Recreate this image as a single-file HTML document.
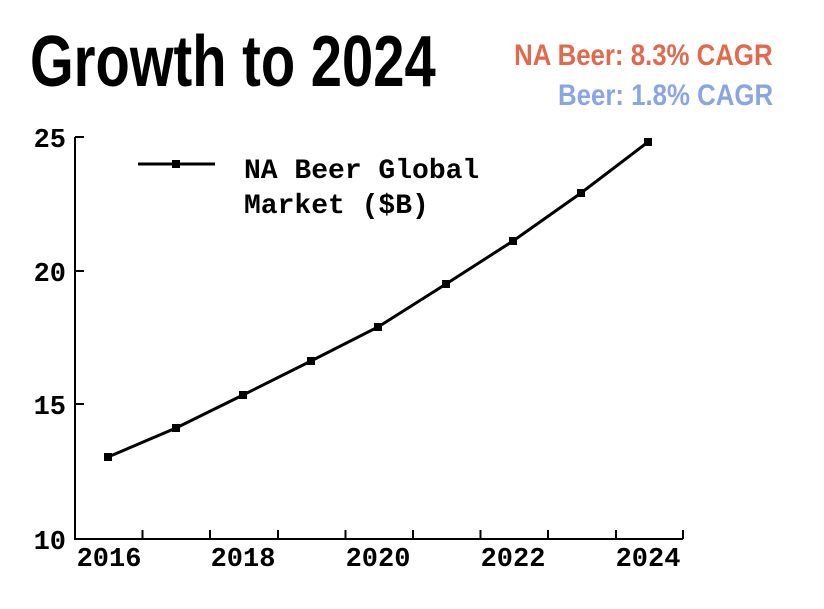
<!DOCTYPE html>
<html><head><style>
body{margin:0;background:#fff;width:824px;height:609px;overflow:hidden;position:relative;font-family:"Liberation Sans",sans-serif}
.t{position:absolute;white-space:nowrap;font-weight:bold}
</style></head><body>
<div class="t" style="left:30px;top:22px;font-size:72px;line-height:80px;transform:scaleX(0.78);transform-origin:left top;color:#000">Growth to 2024</div>
<div class="t" style="right:51px;top:39px;font-size:30px;line-height:34px;transform:scaleX(0.86);transform-origin:right top;color:#e0694e">NA Beer: 8.3% CAGR</div>
<div class="t" style="right:51px;top:79px;font-size:30px;line-height:34px;transform:scaleX(0.86);transform-origin:right top;color:#8aa6e2">Beer: 1.8% CAGR</div>
<svg width="824" height="609" style="position:absolute;left:0;top:0" font-family="Liberation Mono, monospace" font-weight="bold">
<g stroke="#000" stroke-width="2" fill="none">
<path d="M75 137V539H683"/>
<path d="M75 137h9M75 271h9M75 404h9M75 539h9"/>
<path d="M142.5 539v-9M210 539v-9M278 539v-9M345.5 539v-9M413 539v-9M480.5 539v-9M548 539v-9M616 539v-9M683 539v-9"/>
<polyline stroke-width="3" points="108,457 176,428 243,395 311,361 378,327 446,284 513,241 581,193 648,142"/>
<line x1="138" y1="164" x2="215" y2="164" stroke-width="3"/>
</g>
<g fill="#000">
<rect x="104" y="453" width="8" height="8"/><rect x="172" y="424" width="8" height="8"/><rect x="239" y="391" width="8" height="8"/><rect x="307" y="357" width="8" height="8"/><rect x="374" y="323" width="8" height="8"/><rect x="442" y="280" width="8" height="8"/><rect x="509" y="237" width="8" height="8"/><rect x="577" y="189" width="8" height="8"/><rect x="644" y="138" width="8" height="8"/>
<rect x="172" y="160" width="8" height="8"/>
<g font-size="27" text-anchor="end">
<text x="66" y="147">25</text><text x="66" y="281">20</text><text x="66" y="414">15</text><text x="66" y="549">10</text>
</g>
<g font-size="27" text-anchor="middle">
<text x="109" y="566">2016</text><text x="243" y="566">2018</text><text x="378" y="566">2020</text><text x="513" y="566">2022</text><text x="648" y="566">2024</text>
</g>
<text x="244" y="178" font-size="28">NA Beer Global</text>
<text x="244" y="213" font-size="28">Market ($B)</text>
</g>
</svg>
</body></html>
